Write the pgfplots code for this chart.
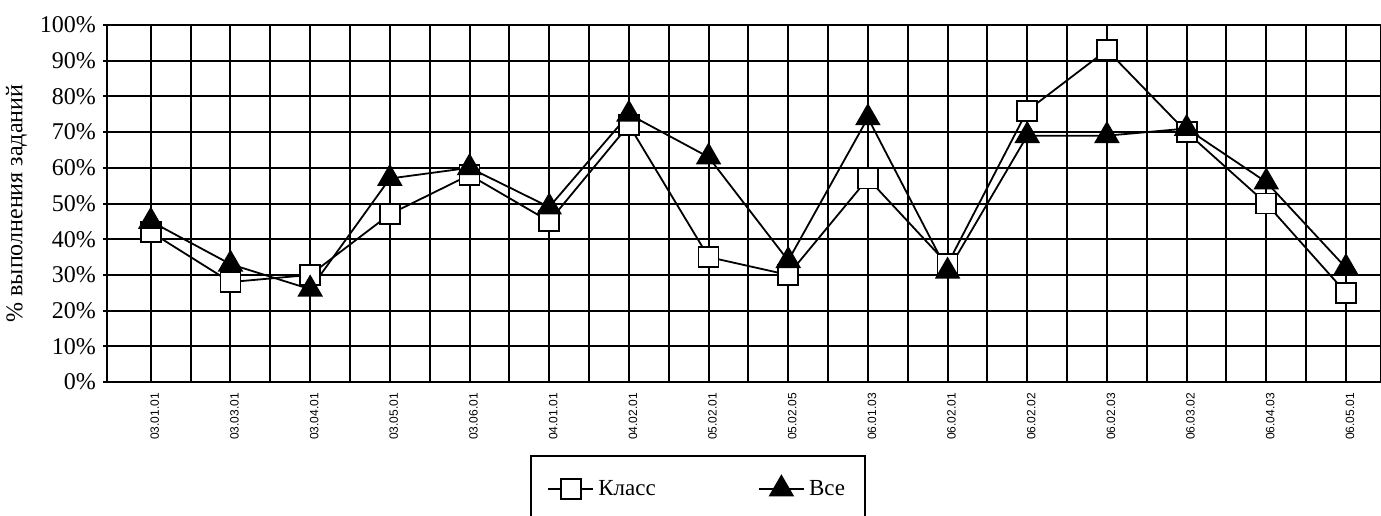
\documentclass[border=0pt]{standalone}
\usepackage{pgfplots}
\pgfplotsset{compat=1.18}
\usepackage{fontspec}
\setmainfont{Liberation Serif}
\newfontfamily\tickfont{Liberation Sans}
\begin{document}
\begin{tikzpicture}
\useasboundingbox (0,0) rectangle (690.5pt,257.5pt);
\begin{axis}[
  at={(53.5pt,66.5pt)}, anchor=south west,
  scale only axis, width=637pt, height=178.5pt,
  xmin=-0.55, xmax=15.44, ymin=0, ymax=100,
  xtick={0,...,15},
  xticklabels={03.01.01,03.03.01,03.04.01,03.05.01,03.06.01,04.01.01,04.02.01,05.02.01,05.02.05,06.01.03,06.02.01,06.02.02,06.02.03,06.03.02,06.04.03,06.05.01},
  minor xtick={0.5,1.5,...,15.5},
  ytick={0,10,...,100},
  yticklabels={0\%,10\%,20\%,30\%,40\%,50\%,60\%,70\%,80\%,90\%,100\%},
  xmajorgrids, ymajorgrids, xminorgrids,
  grid style={black, line width=1pt},
  major grid style={black, line width=1pt},
  minor grid style={black, line width=1pt, opacity=1},
  axis line style={black, line width=1pt},
  xtick style={draw=none},
  minor tick length=0pt,
  ytick style={black, line width=1pt},
  major tick length=2pt, tick align=outside,
  x tick label style={rotate=90, anchor=east, font=\tickfont\fontsize{6}{7}\selectfont, yshift=-2pt},
  y tick label style={font=\fontsize{12}{14}\selectfont},
  ylabel={\% выполнения заданий},
  ylabel style={at={(axis description cs:-0.071,0.5)}, anchor=center, font=\fontsize{12}{14}\selectfont},
  legend columns=2,
  legend image code/.code={\draw[mark repeat=2,mark phase=2] plot coordinates {(0cm,0cm) (0.4cm,0cm) (0.8cm,0cm)};},
  legend style={at={(0.332,-0.2045)}, anchor=north west, draw=black, line width=1pt,
    font=\fontsize{11.5}{14}\selectfont, inner xsep=8pt, inner ysep=10pt,
    /tikz/every even column/.append style={column sep=49pt}},
]
\addplot[black, line width=0.9pt, mark=square*, mark size=5pt, mark options={fill=white, draw=black, solid, line width=0.9pt}]
  coordinates {(0,42) (1,28) (2,30) (3,47) (4,58) (5,45) (6,72) (7,35) (8,30) (9,57) (10,33) (11,76) (12,93) (13,70) (14,50) (15,25)};
\addlegendentry{Класс}
\addplot[black, line width=0.9pt, mark=triangle*, mark size=6.5pt, mark options={fill=black, draw=black, solid}]
  coordinates {(0,45) (1,33) (2,26) (3,57) (4,60) (5,49) (6,75) (7,63) (8,34) (9,74) (10,31) (11,69) (12,69) (13,71) (14,56) (15,32)};
\addlegendentry{Все}
\end{axis}
\end{tikzpicture}
\end{document}
